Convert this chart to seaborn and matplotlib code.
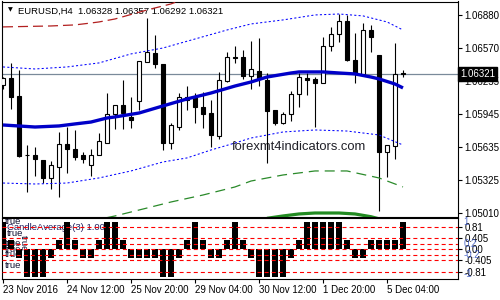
import numpy as np
import matplotlib
matplotlib.use("Agg")
import matplotlib.pyplot as plt
import seaborn as sns

# ---------------- data ----------------
title_text = "EURUSD,H4  1.06328 1.06357 1.06292 1.06321"
watermark = "forexmt4indicators.com"
indicator_label = "CandleAverage(3) 1.00"

opens = [1.06219, 1.06285, 1.06115, 1.05560, 1.05558, 1.05511, 1.05341, 1.05445, 1.05662, 1.05614,
         1.05558, 1.05463, 1.05558, 1.05671, 1.05945, 1.06030, 1.05917, 1.06068, 1.06436, 1.06521,
         1.06415, 1.05671, 1.05822, 1.06106, 1.06106, 1.06011, 1.05954, 1.05737, 1.06257, 1.06483,
         1.06483, 1.06304, 1.06351, 1.06266, 1.05983, 1.05860, 1.05945, 1.06134, 1.06285, 1.06276,
         1.06238, 1.06587, 1.06701, 1.06823, 1.06455, 1.06323, 1.06738, 1.06502, 1.05586, 1.05643,
         1.06328]
highs = [1.06294, 1.06427, 1.06361, 1.05652, 1.05633, 1.05511, 1.05501, 1.05775, 1.05822, 1.05794,
         1.05586, 1.05614, 1.05766, 1.06143, 1.06030, 1.06266, 1.06106, 1.06446, 1.06852, 1.06691,
         1.06415, 1.05860, 1.06143, 1.06209, 1.06143, 1.06153, 1.06077, 1.06342, 1.06531, 1.06587,
         1.06549, 1.06634, 1.06663, 1.06332, 1.05983, 1.05964, 1.06162, 1.06332, 1.06332, 1.06294,
         1.06672, 1.06767, 1.06889, 1.06880, 1.06710, 1.06804, 1.06786, 1.06502, 1.05652, 1.06616,
         1.06357]
lows = [1.06181, 1.05992, 1.05539, 1.05209, 1.05360, 1.05293, 1.05237, 1.05161, 1.05388, 1.05511,
        1.05482, 1.05360, 1.05558, 1.05671, 1.05803, 1.05803, 1.05813, 1.05983, 1.06436, 1.06379,
        1.05605, 1.05614, 1.05794, 1.05983, 1.05860, 1.05813, 1.05633, 1.05709, 1.06247, 1.06427,
        1.06276, 1.06181, 1.06209, 1.05482, 1.05841, 1.05851, 1.05879, 1.06011, 1.06124, 1.05822,
        1.06238, 1.06540, 1.06625, 1.06446, 1.06238, 1.06323, 1.06531, 1.05033, 1.05350, 1.05520,
        1.06292]
closes = [1.06285, 1.06106, 1.05548, 1.05555, 1.05520, 1.05341, 1.05463, 1.05662, 1.05614, 1.05539,
          1.05520, 1.05558, 1.05690, 1.05945, 1.06030, 1.05954, 1.05888, 1.06446, 1.06531, 1.06417,
          1.05671, 1.05841, 1.06106, 1.06077, 1.06011, 1.05945, 1.05747, 1.06266, 1.06483, 1.06474,
          1.06304, 1.06370, 1.06285, 1.05973, 1.05860, 1.05945, 1.06134, 1.06294, 1.06266, 1.06238,
          1.06587, 1.06701, 1.06823, 1.06455, 1.06323, 1.06738, 1.06672, 1.05586, 1.05652, 1.06323,
          1.06321]

t = 1 / 3
candle_avg = [1, t, -t, -1, -1, -1, -t, t, 1, t,
              -t, -t, t, 1, 1, t, -t, -t, -t, -t,
              -1, -1, -t, t, 1, t, -t, -t, t, 1,
              t, -t, -1, -1, -1, -1, -t, t, 1, 1,
              1, 1, 1, t, -t, -t, t, t, t, t,
              1]

ma_idx = [0, 4, 7, 9, 11, 13, 14, 17, 20, 23, 26, 29, 31, 33, 36, 37, 40, 42, 44, 46, 47, 49, 50]
ma_vals = [1.05841, 1.05822, 1.05832, 1.05851, 1.05869, 1.05907, 1.05917, 1.05954, 1.06021, 1.06087,
           1.06143, 1.06209, 1.06247, 1.06294, 1.06332, 1.06342, 1.06342, 1.06332, 1.06323, 1.06294,
           1.06276, 1.06228, 1.06191]

upper_idx = [0, 4, 8, 12, 16, 20, 24, 28, 31, 35, 39, 42, 45, 48, 50]
upper_vals = [1.06389, 1.06370, 1.06389, 1.06427, 1.06512, 1.06568, 1.06653, 1.06738, 1.06795, 1.06833,
              1.06880, 1.06889, 1.06871, 1.06814, 1.06738]

lower_idx = [0, 4, 8, 12, 16, 20, 23, 26, 29, 31, 35, 39, 43, 47, 50]
lower_vals = [1.05293, 1.05284, 1.05293, 1.05341, 1.05407, 1.05492, 1.05530, 1.05605, 1.05671, 1.05718,
              1.05775, 1.05794, 1.05784, 1.05747, 1.05652]

red_idx = [0, 6, 9, 11, 12, 14, 18, 21, 24]
red_vals = [1.06767, 1.06776, 1.06786, 1.06804, 1.06814, 1.06842, 1.06927, 1.06984, 1.07069]

green_idx = [11, 14, 18, 21, 25, 29, 31, 35, 39, 43, 47, 50]
green_vals = [1.04935, 1.04982, 1.05057, 1.05114, 1.05180, 1.05256, 1.05312, 1.05369, 1.05407, 1.05407,
              1.05341, 1.05256]

green2_idx = [33, 35, 37, 39, 42, 44, 45, 46, 47]
green2_vals = [1.04960, 1.04982, 1.05001, 1.05010, 1.05010, 1.05001, 1.04988, 1.04975, 1.04955]

last_price = 1.06321
price_ticks = [1.06880, 1.06570, 1.06255, 1.05945, 1.05635, 1.05325, 1.05010]
price_labels = ["1.06880", "1.06570", "1.06255", "1.05945", "1.05635", "1.05325", "1.05010"]

date_ticks = [0, 8, 16, 24, 32, 40, 48]
date_labels = ["23 Nov 2016", "24 Nov 12:00", "25 Nov 20:00", "29 Nov 04:00",
               "30 Nov 12:00", "1 Dec 20:00", "5 Dec 04:00"]

level_values = [0.81, 0.405, 0.2, 0.0, -0.2, -0.405, -0.81]
level_ticks = [0.81, 0.405, 0.0, -0.405, -0.81]
level_labels = ["0.81", "0.405", "0.00", "-0.405", "-0.81"]
level_extra_vals = [1.0, 0.2, -0.2, -0.9]
level_extra_labels = ["1", "0.2", "-0.2", "-1"]

# ---------------- style ----------------
sns.set_style("white")
plt.rcParams["font.family"] = ["Liberation Sans", "DejaVu Sans"]
plt.rcParams["lines.scale_dashes"] = False

W, H = 500, 300
fig = plt.figure(figsize=(5, 3), dpi=100)
fig.patch.set_facecolor("white")


def fpos(px, py):
    return px / W, 1 - py / H


ax = fig.add_axes([2 / W, 1 - 216.5 / H, 456 / W, 215 / H])
ax2 = fig.add_axes([2 / W, 1 - 279 / H, 456 / W, 61 / H])

for a in (ax, ax2):
    a.set_facecolor("white")
    for s in a.spines.values():
        s.set_color("black")
        s.set_linewidth(0.8)
        s.set_visible(True)
    a.set_xlim(-0.125, 56.875)

# ---------------- candles ----------------
x = np.arange(len(opens))
o = np.array(opens)
h = np.array(highs)
l = np.array(lows)
c = np.array(closes)
up = c >= o
bot = np.minimum(o, c)
bh = np.maximum(np.abs(c - o), 0.000015)

ax.axhline(last_price, color="#7a8a9a", lw=0.9, zorder=1)
ax.vlines(x, l, h, color="black", lw=0.8, zorder=3)
ax.bar(x[up], bh[up], bottom=bot[up], width=0.62, facecolor="white",
       edgecolor="black", linewidth=0.8, zorder=4)
ax.bar(x[~up], bh[~up], bottom=bot[~up], width=0.62, facecolor="black",
       edgecolor="black", linewidth=0.8, zorder=4)


def band(ix, vals, color, lw, dashes=None, z=5):
    sns.lineplot(x=ix, y=vals, ax=ax, color=color, linewidth=lw, zorder=z, legend=False)
    line = ax.lines[-1]
    if dashes is not None:
        line.set_dashes(dashes)
    line.set_solid_capstyle("butt")
    line.set_dash_capstyle("butt")


band(red_idx, red_vals, "#b22020", 0.9, (7.2, 3.6))
band(green_idx, green_vals, "#2a8a2a", 0.9, (7.2, 4.3))
band(green2_idx, green2_vals, "#228b22", 2.3)
band(upper_idx, upper_vals, "#0000ff", 0.75, (1.5, 1.6))
band(lower_idx, lower_vals, "#0000ff", 0.75, (1.5, 1.6))
band(ma_idx, ma_vals, "#0000c8", 2.4, z=6)

ax.set_ylim(1.04977, 1.07007)
ax.set_xlabel("")
ax.set_ylabel("")
ax.set_xticks([])
ax.yaxis.tick_right()
ax.set_yticks(price_ticks, price_labels)
ax.tick_params(axis="y", right=True, left=False, length=3, width=0.8, pad=1.5,
               labelsize=7, colors="black", direction="out")

ax.annotate(f"{last_price:.5f}", xy=(1, last_price), xycoords=ax.get_yaxis_transform(),
            xytext=(1.6, 0), textcoords="offset points", ha="left", va="center",
            color="white", fontsize=7,
            bbox=dict(boxstyle="square,pad=0.18", fc="black", ec="black"),
            annotation_clip=False, zorder=10)

tx, ty = fpos(8, 10)
ax.text(tx, ty, "\u25bc", transform=fig.transFigure, fontsize=4.5, family="DejaVu Sans",
        va="center", ha="left", color="black", zorder=1)
tx, ty = fpos(18, 11)
ax.text(tx, ty, title_text, transform=fig.transFigure, fontsize=6.8, va="center",
        ha="left", color="black", zorder=1)
tx, ty = fpos(232, 147)
ax.text(tx, ty, watermark, transform=fig.transFigure, fontsize=9.4, va="center",
        ha="left", color="#202028", zorder=1)

# ---------------- indicator ----------------
ax2.bar(x, candle_avg, width=0.8, color="black", linewidth=0, zorder=2)
for v in level_values:
    ax2.axhline(v, color="#ff0000", lw=0.8, dashes=(2.9, 2.2), zorder=3)
ax2.set_ylim(-1.08, 1.138)
ax2.yaxis.tick_right()
ax2.set_yticks(level_ticks, level_labels)
ax2.tick_params(axis="y", right=True, left=False, length=3, width=0.8, pad=1.5,
                labelsize=7, colors="black", direction="out")
for v, s in zip(level_extra_vals, level_extra_labels):
    ax2.annotate(s, xy=(1, v), xycoords=ax2.get_yaxis_transform(), xytext=(4, 0),
                 textcoords="offset points", ha="left", va="center", fontsize=7,
                 color="#3050c0", alpha=0.8, annotation_clip=False)

ax2.set_xticks(date_ticks, date_labels)
ax2.tick_params(axis="x", bottom=True, length=3, width=0.8, pad=1.5, labelsize=7,
                colors="black", direction="out")
for lab in ax2.get_xticklabels():
    lab.set_ha("left")

tx, ty = fpos(7, 227)
ax2.text(tx, ty, indicator_label, transform=fig.transFigure, fontsize=6.8, va="center",
         ha="left", color="#202060", zorder=1)
true_spots = [(5, 221, 0), (7, 233, 0), (5, 244, 0), (5, 250, 0), (5, 254.5, 0), (5, 266, 0),
              (19, 243, 270)]
for px, py, rot in true_spots:
    tx, ty = fpos(px, py)
    ax2.text(tx, ty, "true", transform=fig.transFigure, fontsize=6.8, va="center",
             ha="left", color="#101030", rotation=rot, zorder=1)

fig.savefig("out.png", dpi=100, facecolor="white")
